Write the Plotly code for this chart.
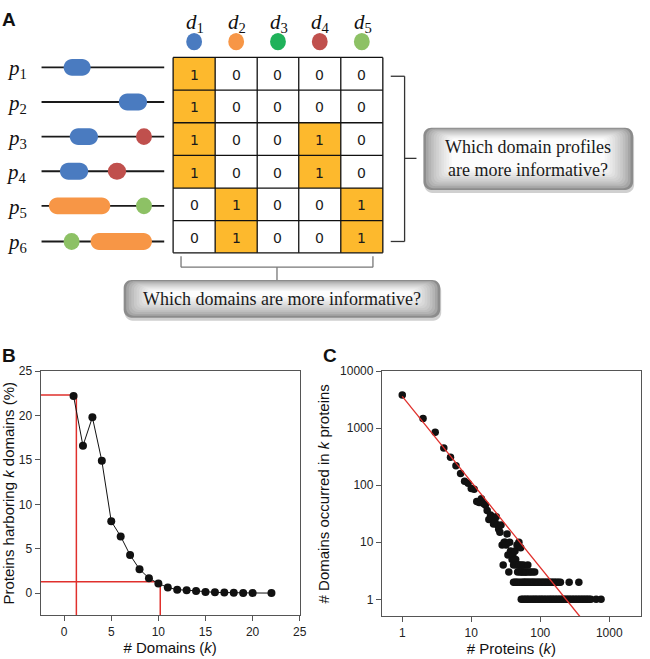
import plotly.graph_objects as go

W, H = 650, 659

# ---------------- Panel A data ----------------
domain_names = ["d", "d", "d", "d", "d"]
domain_subs = ["1", "2", "3", "4", "5"]
domain_colors = ["#4a7bc0", "#f79646", "#1fb25a", "#c0504d", "#8dc165"]
protein_subs = ["1", "2", "3", "4", "5", "6"]
profile_matrix = [
    [1, 0, 0, 0, 0],
    [1, 0, 0, 0, 0],
    [1, 0, 0, 1, 0],
    [1, 0, 0, 1, 0],
    [0, 1, 0, 0, 1],
    [0, 1, 0, 0, 1],
]
# domain architecture: (domain index, relative start, relative end) along protein
architectures = [
    [(0, 0.18, 0.40)],
    [(0, 0.63, 0.86)],
    [(0, 0.23, 0.46), (3, 0.77, 0.90)],
    [(0, 0.15, 0.38), (3, 0.54, 0.69)],
    [(1, 0.06, 0.56), (4, 0.77, 0.90)],
    [(4, 0.18, 0.31), (1, 0.40, 0.90)],
]
question_profiles = "Which domain profiles<br>are more informative?"
question_domains = "Which domains are more informative?"

# ---------------- Panel B data ----------------
b_k = [1, 2, 3, 4, 5, 6, 7, 8, 9, 10, 11, 12, 13, 14, 15, 16, 17, 18, 19, 20, 22]
b_pct = [22.2, 16.6, 19.8, 14.9, 8.1, 6.4, 4.3, 2.7, 1.7, 1.1, 0.65, 0.4, 0.35,
         0.25, 0.15, 0.1, 0.08, 0.05, 0.04, 0.03, 0.02]
b_ref_x = [1.3, 10.2]
b_ref_y = [22.3, 1.3]

# ---------------- Panel C data ----------------
c_k_main = [1, 2, 3, 4, 5, 6, 7, 8, 9, 10, 11, 12, 13, 14, 15, 16, 17, 18, 19, 20,
            21, 22, 23, 24, 25, 26, 27, 28, 29, 30, 31, 32, 33, 34, 35, 36, 37, 38,
            39, 40, 41, 42, 43, 44, 45, 46, 47, 48, 49, 50, 51, 52, 53, 54, 55, 57,
            59, 61, 63, 66, 68, 72, 77, 83]
c_count_main = [3800, 1470, 850, 450, 310, 220, 160, 117, 108, 88, 85, 52, 50, 58, 48,
                45, 36, 25, 30, 26, 21, 23, 28, 20, 17, 15, 20, 9, 4, 10, 10, 9, 14, 6,
                3, 10, 7, 6, 5, 6, 4, 5, 7, 5, 4, 9, 3, 4, 10, 4, 3, 8, 4, 3, 3, 4, 3,
                3, 3, 4, 3, 3, 3, 3]
c_k_two = [41, 43, 45, 47, 50, 53, 56, 58, 60, 62, 65, 67, 70, 73, 76, 79, 82, 86, 90,
           94, 98, 103, 108, 113, 118, 124, 130, 136, 143, 150, 158, 166, 175, 185,
           196, 262, 362]
c_k_one = [53, 56, 59, 62, 65, 68, 72, 76, 80, 84, 88, 93, 98, 103, 108, 114, 120, 127,
           134, 141, 148, 156, 164, 173, 182, 192, 202, 213, 224, 236, 248, 261, 275,
           290, 305, 321, 338, 356, 375, 395, 416, 438, 461, 485, 510, 540, 645, 760]
c_count_two = [2] * len(c_k_two)
c_count_one = [1] * len(c_k_one)
fit_k = [1, 380]
fit_count = [3600, 0.49]


def X(px):
    return px / W


def Y(py):
    return 1 - py / H


shapes = []
annotations = []


def text(x, y, s, family, size, color="#1a1a1a"):
    annotations.append(dict(xref="paper", yref="paper", x=X(x), y=Y(y), text=s,
                            showarrow=False, xanchor="center", yanchor="middle",
                            font=dict(family=family, size=size, color=color)))


def rect(x0, y0, x1, y1, fill, lc=None, lw=0):
    shapes.append(dict(type="rect", xref="paper", yref="paper",
                       x0=X(x0), x1=X(x1), y0=Y(y1), y1=Y(y0),
                       fillcolor=fill, line=dict(width=lw, color=lc or fill),
                       layer="above"))


def line(x0, y0, x1, y1, color="#222", width=1.3):
    shapes.append(dict(type="line", xref="paper", yref="paper",
                       x0=X(x0), x1=X(x1), y0=Y(y0), y1=Y(y1),
                       line=dict(color=color, width=width), layer="above"))


def ellipse(cx, cy, rx, ry, fill):
    shapes.append(dict(type="circle", xref="paper", yref="paper",
                       x0=X(cx - rx), x1=X(cx + rx), y0=Y(cy + ry), y1=Y(cy - ry),
                       fillcolor=fill, line=dict(width=0), layer="above"))


def rr_path(x0, y0, x1, y1, r):
    k = 0.5523 * r
    def p(x, y):
        return f"{X(x):.5f},{Y(y):.5f}"
    return (f"M {p(x0 + r, y0)} L {p(x1 - r, y0)} "
            f"C {p(x1 - r + k, y0)} {p(x1, y0 + r - k)} {p(x1, y0 + r)} "
            f"L {p(x1, y1 - r)} "
            f"C {p(x1, y1 - r + k)} {p(x1 - r + k, y1)} {p(x1 - r, y1)} "
            f"L {p(x0 + r, y1)} "
            f"C {p(x0 + r - k, y1)} {p(x0, y1 - r + k)} {p(x0, y1 - r)} "
            f"L {p(x0, y0 + r)} "
            f"C {p(x0, y0 + r - k)} {p(x0 + r - k, y0)} {p(x0 + r, y0)} Z")


def rrect(x0, y0, x1, y1, r, fill):
    shapes.append(dict(type="path", xref="paper", yref="paper",
                       path=rr_path(x0, y0, x1, y1, r), fillcolor=fill,
                       line=dict(width=0), layer="above"))


def grad_box(x0, y0, x1, y1):
    rrect(x0 + 1, y0 + 3, x1 + 1, y1 + 3, 8, "#d0d0d0")
    n = 12
    for i in range(n):
        t = i / (n - 1)
        v = int(140 + (252 - 140) * (t ** 0.6))
        col = f"rgb({v},{v},{v})"
        dx = i * 2.6
        dyt = i * 1.0
        dyb = i * 1.9
        rrect(x0 + dx, y0 + dyt, x1 - dx, y1 - dyb, max(8 - i * 0.5, 2), col)


# ---- Table ----
col_x = [175, 217.5, 260, 302, 344.5, 387]
row_y = [51, 84, 117, 150, 183, 216, 248.5]
for r, row in enumerate(profile_matrix):
    for c, v in enumerate(row):
        if v == 1:
            rect(col_x[c], row_y[r], col_x[c + 1], row_y[r + 1], "#fdb92d")
        text((col_x[c] + col_x[c + 1]) / 2, (row_y[r] + row_y[r + 1]) / 2 + 1,
             str(v), "DejaVu Sans", 14)
for xv in col_x:
    line(xv, row_y[0], xv, row_y[-1], "#111", 1.3)
for yv in row_y:
    line(col_x[0], yv, col_x[-1], yv, "#111", 1.3)

# ---- Domain headers ----
for c in range(5):
    cx = (col_x[c] + col_x[c + 1]) / 2
    text(cx + 1, 16, f"<i>{domain_names[c]}</i><sub>{domain_subs[c]}</sub>",
         "Liberation Serif", 21, "#111")
    ellipse(cx, 35, 8, 8.8, domain_colors[c])

# ---- Protein architectures ----
prot_y = [61, 96, 131, 166, 201, 237]
px0, px1 = 42, 166
for r, arch in enumerate(architectures):
    yv = prot_y[r]
    line(px0, yv, px1, yv, "#1a1a1a", 1.8)
    text(17, yv + 2, f"<i>p</i><sub>{protein_subs[r]}</sub>", "Liberation Serif", 21, "#111")
    for (d, s, e) in arch:
        xs = px0 + s * (px1 - px0)
        xe = px0 + e * (px1 - px0)
        if xe - xs < 20:
            ellipse((xs + xe) / 2, yv, (xe - xs) / 2, 8.5, domain_colors[d])
        else:
            rrect(xs, yv - 8.5, xe, yv + 8.5, 8.5, domain_colors[d])

# ---- Brackets ----
bc = "#333"
line(395, 70, 409, 70, bc, 1.3)
line(409, 70, 409, 237, bc, 1.3)
line(395, 237, 409, 237, bc, 1.3)
line(409, 153, 421, 153, bc, 1.3)
gc = "#777"
line(183, 252, 183, 263, gc, 1.3)
line(183, 263, 377, 263, gc, 1.3)
line(377, 252, 377, 263, gc, 1.3)
line(280, 263, 280, 277, gc, 1.3)

# ---- Question boxes ----
grad_box(428, 122, 640, 185)
text(534, 153, question_profiles, "Liberation Serif", 18)
grad_box(125, 276, 445, 314)
text(285, 295, question_domains, "Liberation Serif", 18)

# ---- Panel letters ----
for letter, lx, ly in [("A", 9, 13), ("B", 9, 352), ("C", 334, 352)]:
    text(lx, ly, f"<b>{letter}</b>", "Liberation Sans", 19, "#111")

# ---------------- Traces ----------------
fig = go.Figure()
red = "#e0302c"

fig.add_trace(go.Scatter(x=[-2.5, b_ref_x[0], b_ref_x[0]], y=[b_ref_y[0], b_ref_y[0], -2.5],
                         mode="lines", line=dict(color=red, width=1.5),
                         xaxis="x", yaxis="y", hoverinfo="skip"))
fig.add_trace(go.Scatter(x=[-2.5, b_ref_x[1], b_ref_x[1]], y=[b_ref_y[1], b_ref_y[1], -2.5],
                         mode="lines", line=dict(color=red, width=1.5),
                         xaxis="x", yaxis="y", hoverinfo="skip"))
fig.add_trace(go.Scatter(x=b_k, y=b_pct, mode="lines+markers",
                         line=dict(color="#111", width=1),
                         marker=dict(color="#111", size=8),
                         xaxis="x", yaxis="y"))

c_k = c_k_main + c_k_two + c_k_one
c_count = c_count_main + c_count_two + c_count_one
fig.add_trace(go.Scatter(x=c_k, y=c_count, mode="markers",
                         marker=dict(color="#111", size=7.5),
                         xaxis="x2", yaxis="y2"))
fig.add_trace(go.Scatter(x=fit_k, y=fit_count, mode="lines",
                         line=dict(color=red, width=1.3),
                         xaxis="x2", yaxis="y2"))

tickfont = dict(family="Liberation Sans", size=12, color="#222")
titlefont = dict(family="Liberation Sans", size=15, color="#111")
axcommon = dict(showline=True, linecolor="#555", linewidth=1, mirror=True,
                ticks="outside", ticklen=5, tickcolor="#555", showgrid=False,
                zeroline=False, tickfont=tickfont)

fig.update_layout(
    width=W, height=H, margin=dict(l=0, r=0, t=0, b=0),
    paper_bgcolor="white", plot_bgcolor="white", showlegend=False,
    xaxis=dict(domain=[41 / W, 303 / W], range=[-2.5, 25],
               tickvals=[0, 5, 10, 15, 20, 25], anchor="y",
               title=dict(text="# Domains (<i>k</i>)", font=titlefont, standoff=3),
               **axcommon),
    yaxis=dict(domain=[1 - 615 / H, 1 - 368 / H], range=[-2.5, 25],
               tickvals=[0, 5, 10, 15, 20, 25], anchor="x",
               title=dict(text="Proteins harboring <i>k</i> domains (%)", font=titlefont,
                          standoff=3),
               **axcommon),
    xaxis2=dict(domain=[386 / W, 648 / W], type="log", range=[-0.296, 3.46],
                tickvals=[1, 10, 100, 1000], ticktext=["1", "10", "100", "1000"],
                anchor="y2",
                title=dict(text="# Proteins (<i>k</i>)", font=titlefont, standoff=3),
                **axcommon),
    yaxis2=dict(domain=[1 - 616 / H, 1 - 368 / H], type="log", range=[-0.30, 4.0],
                tickvals=[1, 10, 100, 1000, 10000],
                ticktext=["1", "10", "100", "1000", "10000"], anchor="x2",
                title=dict(text="# Domains occurred in <i>k</i> proteins", font=titlefont,
                           standoff=6),
                **axcommon),
    shapes=shapes, annotations=annotations,
)

fig.write_html("out.html", config={"displayModeBar": False},
               post_script="document.body.style.margin='0px';"
                           "document.body.style.overflow='hidden';")
